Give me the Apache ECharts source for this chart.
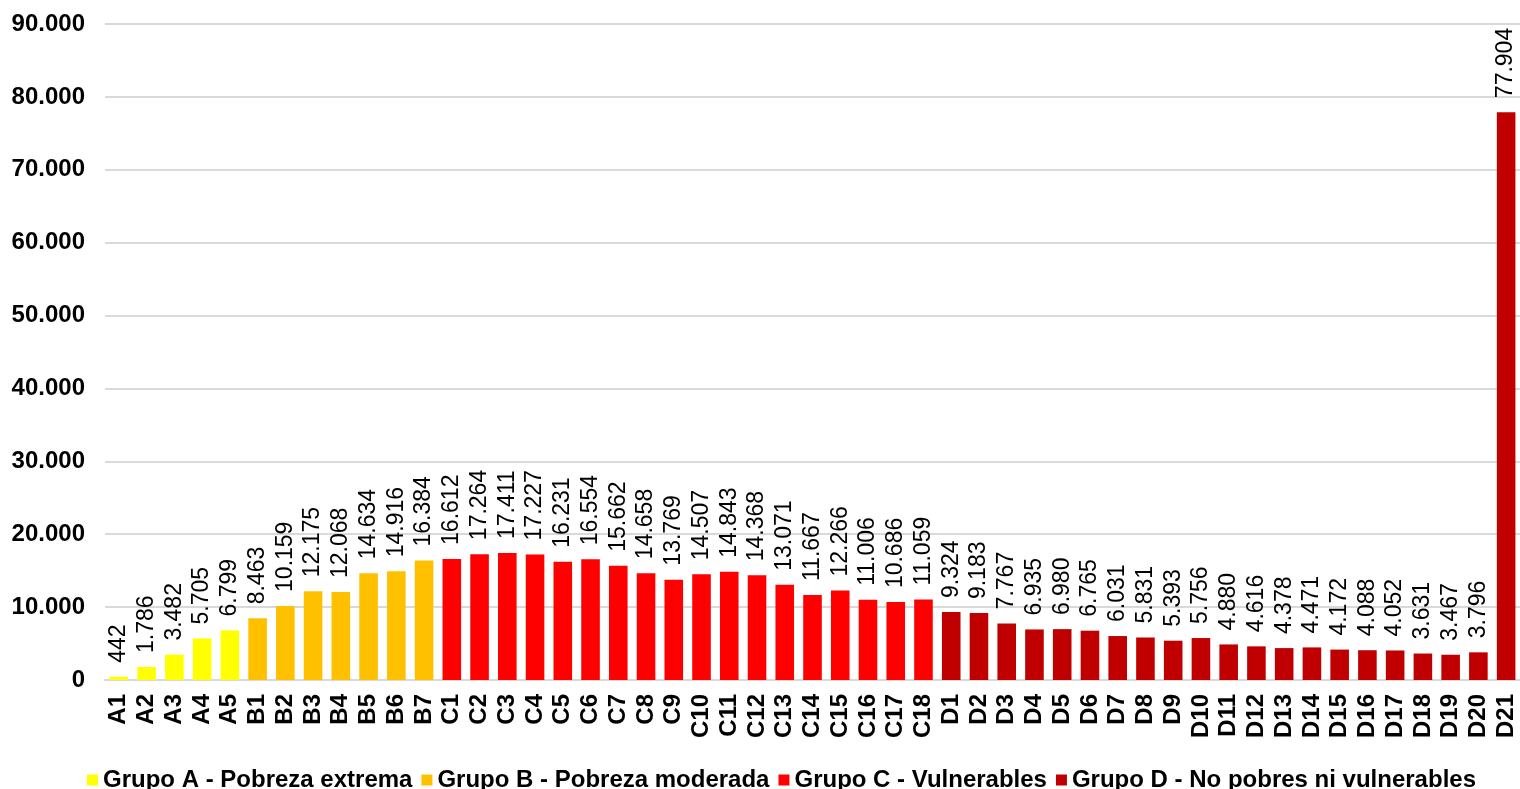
<!DOCTYPE html>
<html>
<head>
<meta charset="utf-8">
<script src="https://cdn.jsdelivr.net/npm/echarts@6/dist/echarts.min.js"></script>
<style>
  html, body { margin: 0; padding: 0; background: #fff; }
  #chart-container { width: 1520px; height: 789px; }
</style>
</head>
<body>
<div id="chart-container"></div>
<script>
let categories = [
    "A1", "A2", "A3", "A4", "A5",
    "B1", "B2", "B3", "B4", "B5", "B6", "B7",
    "C1", "C2", "C3", "C4", "C5", "C6", "C7", "C8", "C9", "C10",
    "C11", "C12", "C13", "C14", "C15", "C16", "C17", "C18",
    "D1", "D2", "D3", "D4", "D5", "D6", "D7", "D8", "D9", "D10",
    "D11", "D12", "D13", "D14", "D15", "D16", "D17", "D18", "D19", "D20", "D21",
];
let grupoA = [442, 1786, 3482, 5705, 6799];
let grupoB = [8463, 10159, 12175, 12068, 14634, 14916, 16384];
let grupoC = [
    16612, 17264, 17411, 17227, 16231, 16554, 15662, 14658, 13769,
    14507, 14843, 14368, 13071, 11667, 12266, 11006, 10686, 11059,
];
let grupoD = [
    9324, 9183, 7767, 6935, 6980, 6765, 6031, 5831, 5393, 5756,
    4880, 4616, 4378, 4471, 4172, 4088, 4052, 3631, 3467, 3796, 77904,
];
let groupNames = [
    "Grupo A - Pobreza extrema",
    "Grupo B - Pobreza moderada",
    "Grupo C - Vulnerables",
    "Grupo D - No pobres ni vulnerables",
];
let groupColors = ["#FFFF00", "#FFC000", "#FF0000", "#C00000"];
let yTicks = [0, 10000, 20000, 30000, 40000, 50000, 60000, 70000, 80000, 90000];

const font = "Liberation Sans, Arial, sans-serif";

function fmt(v) {
    return String(v).replace(/\B(?=(\d{3})+(?!\d))/g, ".");
}

// pad each group so it sits on its own categories
let groups = [grupoA, grupoB, grupoC, grupoD];
let seriesList = [];
let offset = 0;
groups.forEach(function (g, i) {
    let data = categories.map(function () { return "-"; });
    g.forEach(function (v, j) { data[offset + j] = v; });
    offset += g.length;
    seriesList.push({
        name: groupNames[i],
        type: "bar",
        stack: "total",
        data: data,
        barCategoryGap: "33%",
        itemStyle: { color: groupColors[i] },
        label: {
            show: true,
            position: "top",
            rotate: 90,
            align: "left",
            verticalAlign: "middle",
            distance: 14,
            color: "#000",
            fontFamily: font,
            fontSize: 23,
            formatter: function (p) { return fmt(p.value); },
        },
    });
});

let dom = document.getElementById("chart-container");
let myChart = echarts.init(dom, null, { renderer: "canvas" });

let option = {
    animation: false,
    grid: { left: 105, right: 0, top: 24, bottom: 109 },
    legend: {
        top: 763,
        left: 82,
        icon: "rect",
        itemWidth: 11,
        itemHeight: 11,
        itemGap: 9,
        textStyle: { color: "#000", fontFamily: font, fontSize: 24, fontWeight: "bold" },
        data: groupNames,
    },
    xAxis: {
        type: "category",
        data: categories,
        axisLine: { show: true, lineStyle: { color: "#d9d9d9", width: 2 } },
        axisTick: { show: false },
        axisLabel: {
            interval: 0,
            rotate: 90,
            margin: 14,
            color: "#000",
            fontFamily: font,
            fontSize: 24,
            fontWeight: "bold",
        },
    },
    yAxis: {
        type: "value",
        min: yTicks[0],
        max: yTicks[yTicks.length - 1],
        interval: yTicks[1] - yTicks[0],
        axisLine: { show: false },
        axisTick: { show: false },
        splitLine: { lineStyle: { color: "#d9d9d9", width: 2 } },
        axisLabel: {
            margin: 20,
            color: "#000",
            fontFamily: font,
            fontSize: 24,
            fontWeight: "bold",
            formatter: function (v) { return fmt(v); },
        },
    },
    series: seriesList,
};

myChart.setOption(option);
window.addEventListener("resize", myChart.resize);
</script>
</body>
</html>
